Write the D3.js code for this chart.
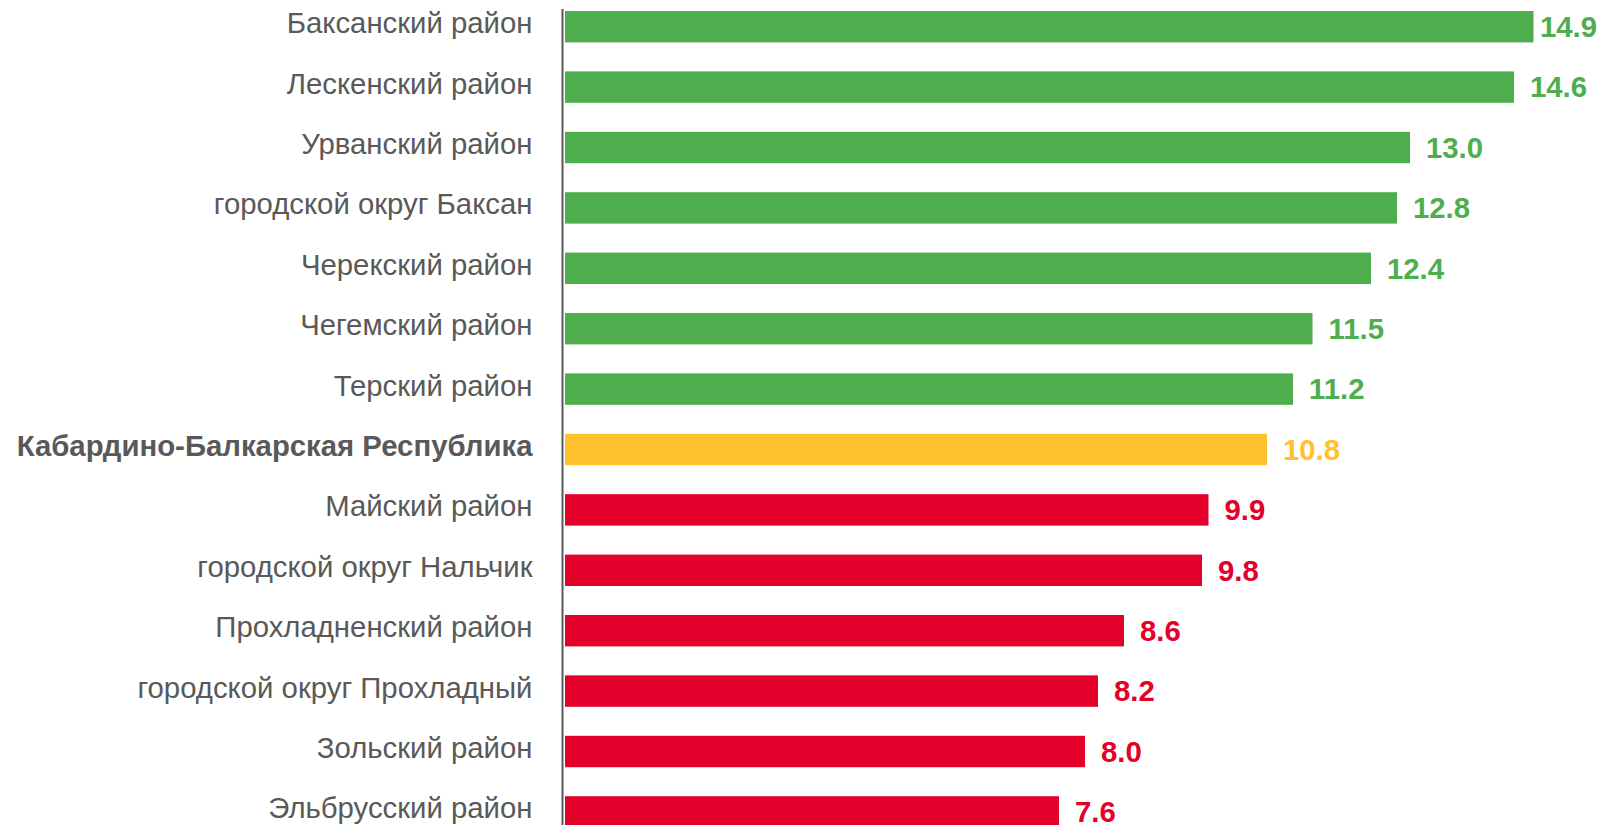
<!DOCTYPE html>
<html><head><meta charset="utf-8">
<script src="https://cdn.jsdelivr.net/npm/d3@7"></script>
<style>body{margin:0;background:#fff;}svg{display:block;font-family:"Liberation Sans",Arial,sans-serif;}</style>
</head><body><svg id="c" width="1603" height="825"></svg>
<script>
const categories = ["Баксанский район","Лескенский район","Урванский район","городской округ Баксан","Черекский район","Чегемский район","Терский район","Кабардино-Балкарская Республика","Майский район","городской округ Нальчик","Прохладненский район","городской округ Прохладный","Зольский район","Эльбрусский район"];
const values = [14.9,14.6,13.0,12.8,12.4,11.5,11.2,10.8,9.9,9.8,8.6,8.2,8.0,7.6];
const groups = ["above","above","above","above","above","above","above","region","below","below","below","below","below","below"];
const colorOf = {above:"#4EAE4E", region:"#FFC22E", below:"#E3002B"};

const W = 1603;
const svg = d3.select("#c");
const x = d3.scaleLinear().domain([0,15]).range([565,1540]);
const y = d3.scaleBand().domain(categories).range([-3.5,842.1]).paddingInner(0.48).paddingOuter(0.24);
const FS = 29.33;

const data = categories.map((c,i)=>({c, v:values[i], g:groups[i]}));

svg.selectAll("rect.bar").data(data).join("rect").attr("class","bar")
  .attr("x", x(0)).attr("y", d=>y(d.c)).attr("width", d=>x(d.v)-x(0)).attr("height", y.bandwidth())
  .attr("fill", d=>colorOf[d.g]);

svg.selectAll("text.val").data(data).join("text").attr("class","val")
  .attr("y", d=>y(d.c)+y.bandwidth()/2).attr("dy","0.35em")
  .attr("font-size",FS).attr("font-weight","bold").attr("fill", d=>colorOf[d.g])
  .text(d=>d.v.toFixed(1))
  .attr("x", function(d){
    const w = this.getComputedTextLength();
    return Math.min(x(d.v)+16, W-6-w);
  });

const yAxis = d3.axisLeft(y).tickSize(0).tickPadding(30);
const ax = svg.append("g").attr("transform","translate(562.5,0)").call(yAxis);
ax.select(".domain").attr("stroke","#595959").attr("stroke-width",2).attr("d","M0,9V825");
ax.selectAll(".tick text").attr("font-size",FS).attr("fill","#595959").attr("dy","0.22em")
  .attr("font-family","Liberation Sans, Arial, sans-serif")
  .attr("font-weight", d=>groups[categories.indexOf(d)]==="region"?"bold":"normal");
</script></body></html>
